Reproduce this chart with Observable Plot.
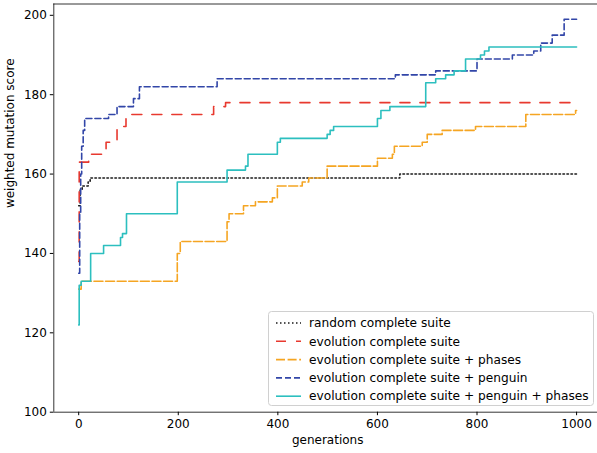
<!DOCTYPE html>
<html><head><meta charset="utf-8">
<script src="https://cdn.jsdelivr.net/npm/d3@7"></script>
<script src="https://cdn.jsdelivr.net/npm/@observablehq/plot@0.6"></script>
<style>body{margin:0;background:#fff}</style>
</head><body><div id="chart"></div>
<script>
const seriesNames = [
  "random complete suite",
  "evolution complete suite",
  "evolution complete suite + phases",
  "evolution complete suite + penguin",
  "evolution complete suite + penguin + phases"
];
const xTicks = [0, 200, 400, 600, 800, 1000];
const yTicks = [100, 120, 140, 160, 180, 200];

const randomGen   = [0, 3, 7, 19, 23, 645, 1000];
const randomScore = [152, 156, 157, 158, 159, 160, 160];

const evoGen   = [0, 1, 20, 55, 77, 95, 271, 295, 1000];
const evoScore = [138, 163, 165, 168, 172, 175, 177, 178, 178];

const phasesGen   = [0, 5, 198, 204, 298, 302, 331, 355, 389, 399, 449, 462, 499, 600, 630, 634, 690, 700, 730, 797, 898, 998, 1000];
const phasesScore = [131, 133, 140, 143, 148, 150, 152, 153, 154, 157, 158, 159, 162, 164, 165, 167, 168, 170, 171, 172, 175, 176, 176];

const penguinGen   = [0, 2, 4, 6, 9, 12, 60, 77, 110, 122, 278, 636, 717, 800, 871, 914, 928, 951, 975, 1000];
const penguinScore = [135, 150, 160, 167, 171, 174, 175, 177, 179, 182, 184, 185, 186, 189, 190, 191, 193, 195, 199, 199];

const bothGen   = [0, 1, 5, 24, 50, 84, 88, 96, 198, 298, 335, 340, 399, 405, 499, 505, 512, 600, 607, 625, 697, 717, 737, 754, 777, 807, 815, 824, 1000];
const bothScore = [122, 132, 133, 140, 142, 144, 145, 150, 158, 161, 162, 165, 168, 169, 170, 171, 172, 174, 176, 177, 183, 184, 185, 186, 189, 190, 191, 192, 192];

const colors = ["#1a1a1a", "#e8392f", "#f5a522", "#3246a8", "#2cbfbf"];
const dashes = ["1.5,2.5", "10,10", "9,2.6", "6,3", null];

const series = [
  [randomGen, randomScore],
  [evoGen, evoScore],
  [phasesGen, phasesScore],
  [penguinGen, penguinScore],
  [bothGen, bothScore]
].map(([g, s], i) => g.map((gen, j) => ({series: seriesNames[i], gen, score: s[j]})));

const W = 597, H = 453, mL = 53.3, mT = 3.5, mB = 41.3;
const font = "DejaVu Sans";
const fs = 12;

const chart = Plot.plot({
  width: W, height: H,
  marginLeft: mL, marginRight: 0, marginTop: mT, marginBottom: mB,
  style: {fontFamily: font, fontSize: fs + "px", color: "#000", background: "#fff"},
  x: {domain: [-50, 1042]},
  y: {domain: [100, 202.85]},
  marks: [
    ...series.map((data, i) => Plot.line(data, {
      x: "gen", y: "score", curve: "step-after",
      stroke: colors[i], strokeWidth: 1.6,
      strokeDasharray: dashes[i] || undefined
    })),
    Plot.ruleX([-50], {stroke: "#000", strokeWidth: 0.8}),
    Plot.ruleY([100, 202.85], {stroke: "#000", strokeWidth: 0.8}),
    Plot.axisX(xTicks, {tickSize: 3.5, tickPadding: 3.5, label: null, fontSize: fs, tickFormat: d3.format("d")}),
    Plot.axisY(yTicks, {tickSize: 3.5, tickPadding: 3.5, label: null, fontSize: fs, tickFormat: d3.format("d")}),
    Plot.text(["weighted mutation score"], {text: d => d, frameAnchor: "left", dx: -43.3, rotate: -90, fontSize: fs}),
    Plot.text(["generations"], {text: d => d, frameAnchor: "bottom", dx: 2, dy: 31.5, fontSize: fs})
  ]
});
document.getElementById("chart").appendChild(chart);

// legend inside axes, bottom-right
const svg = d3.select(chart);
const lg = svg.append("g").attr("font-family", font).attr("font-size", "12.2px").attr("text-anchor", "start");
lg.append("rect")
  .attr("x", 268.5).attr("y", 311.5).attr("width", 325).attr("height", 94)
  .attr("rx", 3).attr("fill", "#fff").attr("fill-opacity", 0.8)
  .attr("stroke", "#d0d0d0").attr("stroke-width", 1);
seriesNames.forEach((name, i) => {
  const y = 323 + i * 18.3;
  lg.append("line")
    .attr("x1", 276).attr("x2", 301).attr("y1", y).attr("y2", y)
    .attr("stroke", colors[i]).attr("stroke-width", 1.6)
    .attr("stroke-dasharray", dashes[i]);
  lg.append("text")
    .attr("x", 309).attr("y", y).attr("dy", "0.35em")
    .attr("text-anchor", "start")
    .attr("fill", "#000").text(name);
});
</script>
</body></html>
